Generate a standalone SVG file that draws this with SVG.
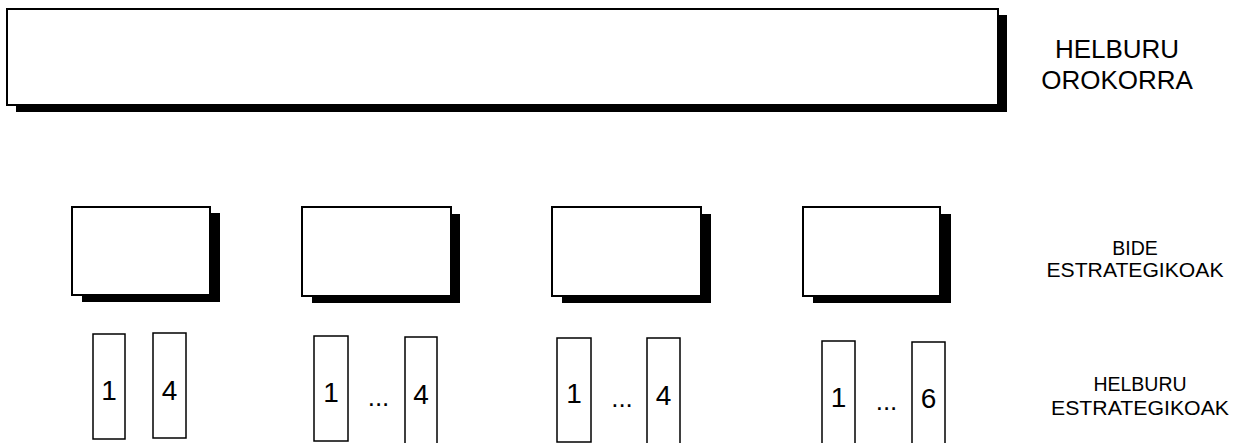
<svg xmlns="http://www.w3.org/2000/svg" width="1234" height="443" viewBox="0 0 1234 443">
<style>
.box{fill:#fff;stroke:#000;stroke-width:2}
.sh{fill:#000}
.sm{fill:#fff;stroke:#000;stroke-width:1.5}
text{font-family:"Liberation Sans",Arial,sans-serif;fill:#000;text-anchor:middle}
.num{font-size:28px}
.dots{font-size:26px}
.lbl{font-size:19.5px}
.big{font-size:26px}
</style>
<rect width="1234" height="443" fill="#fff"/>
<g id="helburu-orokorra">
<rect class="sh" x="16" y="15" width="991" height="97"/>
<rect class="box" x="7" y="9" width="991" height="96"/>
</g>
<g id="label-orokorra">
<text class="big" x="1117" y="58">HELBURU</text>
<text class="big" x="1117" y="89">OROKORRA</text>
</g>
<g id="bide1">
<rect class="sh" x="82" y="213" width="138" height="89"/>
<rect class="box" x="72" y="207" width="138" height="88"/>
</g>
<g id="bide2">
<rect class="sh" x="312" y="214" width="148" height="89"/>
<rect class="box" x="302" y="207" width="149" height="89"/>
</g>
<g id="bide3">
<rect class="sh" x="562" y="214" width="149" height="89"/>
<rect class="box" x="552" y="207" width="149" height="89"/>
</g>
<g id="bide4">
<rect class="sh" x="813" y="214" width="138" height="89"/>
<rect class="box" x="803" y="207" width="137" height="89"/>
</g>
<g id="label-bide">
<text class="lbl" x="1135" y="255">BIDE</text>
<text class="lbl" x="1135" y="277" textLength="177" lengthAdjust="spacingAndGlyphs">ESTRATEGIKOAK</text>
</g>
<g id="group1">
<rect class="sm" x="93" y="334" width="32" height="105"/>
<text class="num" x="109" y="400">1</text>
<rect class="sm" x="153" y="333" width="33" height="105"/>
<text class="num" x="169.5" y="400">4</text>
</g>
<g id="group2">
<rect class="sm" x="314" y="336" width="34" height="105"/>
<text class="num" x="331" y="402">1</text>
<text class="dots" x="378.5" y="406">...</text>
<rect class="sm" x="405" y="337" width="32" height="110"/>
<text class="num" x="421" y="404">4</text>
</g>
<g id="group3">
<rect class="sm" x="557" y="338" width="34" height="104"/>
<text class="num" x="574" y="403">1</text>
<text class="dots" x="622" y="407">...</text>
<rect class="sm" x="647" y="338" width="33" height="110"/>
<text class="num" x="663.5" y="405">4</text>
</g>
<g id="group4">
<rect class="sm" x="822" y="341" width="33" height="110"/>
<text class="num" x="838.5" y="407">1</text>
<text class="dots" x="886.5" y="410">...</text>
<rect class="sm" x="912" y="342" width="33" height="110"/>
<text class="num" x="928.5" y="408">6</text>
</g>
<g id="label-helburu">
<text class="lbl" x="1140" y="391">HELBURU</text>
<text class="lbl" x="1140" y="415" textLength="178" lengthAdjust="spacingAndGlyphs">ESTRATEGIKOAK</text>
</g>
<g id="connectors"></g>
</svg>
